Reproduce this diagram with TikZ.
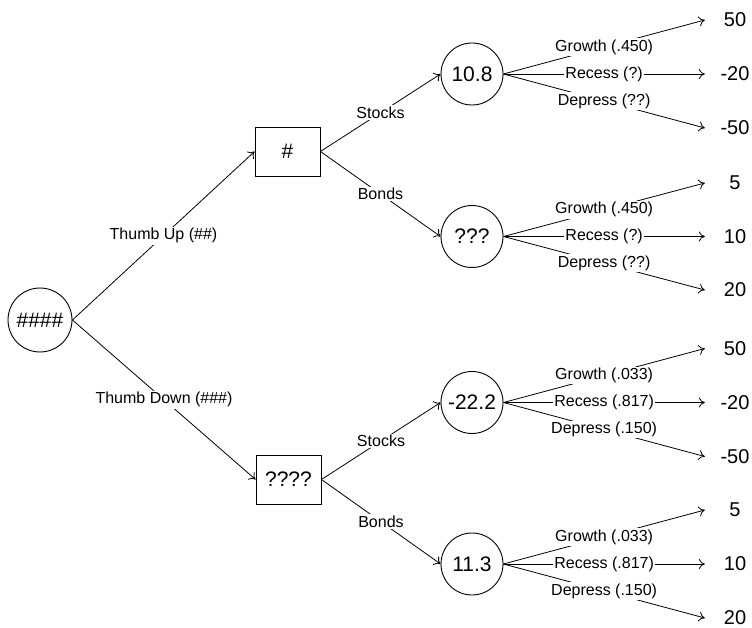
\documentclass[tikz,border=0pt]{standalone}
\usepackage{fontspec}
\setmainfont{Liberation Sans}
\usetikzlibrary{arrows.meta}
\begin{document}
\begin{tikzpicture}[x=1pt,y=-1pt,
  chance/.style={draw, circle, minimum size=62pt, inner sep=0pt, line width=0.9pt, font=\fontsize{21}{24}\selectfont},
  decision/.style={draw, rectangle, minimum width=65pt, minimum height=49pt, inner sep=0pt, line width=0.9pt, font=\fontsize{21}{24}\selectfont},
  payoff/.style={minimum width=60pt, inner sep=0pt, font=\fontsize{20}{24}\selectfont},
  lbl/.style={fill=white, inner sep=1.5pt, font=\fontsize{16}{19}\selectfont},
  edge/.style={line width=0.8pt, -{To[length=6pt,width=10pt]}}]
\useasboundingbox (0,0) rectangle (752,628);

% nodes
\node[chance, minimum size=64pt] (root) at (40,320) {\#\#\#\#};
\node[decision] (d1) at (287.5,151.5) {\#};
\node[decision] (d2) at (288.5,479.5) {????};
\node[chance] (c1) at (472,74) {10.8};
\node[chance] (c2) at (472,236.5) {???};
\node[chance] (c3) at (472,402.5) {-22.2};
\node[chance] (c4) at (472,564) {11.3};

\node[payoff] (p11) at (735,20) {50};
\node[payoff] (p12) at (735,74) {-20};
\node[payoff] (p13) at (735,128) {-50};
\node[payoff] (p21) at (735,183) {5};
\node[payoff] (p22) at (735,236.5) {10};
\node[payoff] (p23) at (735,290) {20};
\node[payoff] (p31) at (735,348.5) {50};
\node[payoff] (p32) at (735,402.5) {-20};
\node[payoff] (p33) at (735,456.5) {-50};
\node[payoff] (p41) at (735,510) {5};
\node[payoff] (p42) at (735,564) {10};
\node[payoff] (p43) at (735,618) {20};

% decision edges
\draw[edge] (root.east) -- node[lbl] {Thumb Up (\#\#)} (d1.west);
\draw[edge] (root.east) -- node[lbl] {Thumb Down (\#\#\#)} (d2.west);
\draw[edge] (d1.east) -- node[lbl] {Stocks} (c1.west);
\draw[edge] (d1.east) -- node[lbl] {Bonds} (c2.west);
\draw[edge] (d2.east) -- node[lbl] {Stocks} (c3.west);
\draw[edge] (d2.east) -- node[lbl] {Bonds} (c4.west);

% chance edges
\draw[edge] (c1.east) -- node[lbl] {Growth (.450)} (p11.west);
\draw[edge] (c1.east) -- node[lbl] {Recess (?)} (p12.west);
\draw[edge] (c1.east) -- node[lbl] {Depress (??)} (p13.west);
\draw[edge] (c2.east) -- node[lbl] {Growth (.450)} (p21.west);
\draw[edge] (c2.east) -- node[lbl] {Recess (?)} (p22.west);
\draw[edge] (c2.east) -- node[lbl] {Depress (??)} (p23.west);
\draw[edge] (c3.east) -- node[lbl] {Growth (.033)} (p31.west);
\draw[edge] (c3.east) -- node[lbl] {Recess (.817)} (p32.west);
\draw[edge] (c3.east) -- node[lbl] {Depress (.150)} (p33.west);
\draw[edge] (c4.east) -- node[lbl] {Growth (.033)} (p41.west);
\draw[edge] (c4.east) -- node[lbl] {Recess (.817)} (p42.west);
\draw[edge] (c4.east) -- node[lbl] {Depress (.150)} (p43.west);
\end{tikzpicture}
\end{document}
